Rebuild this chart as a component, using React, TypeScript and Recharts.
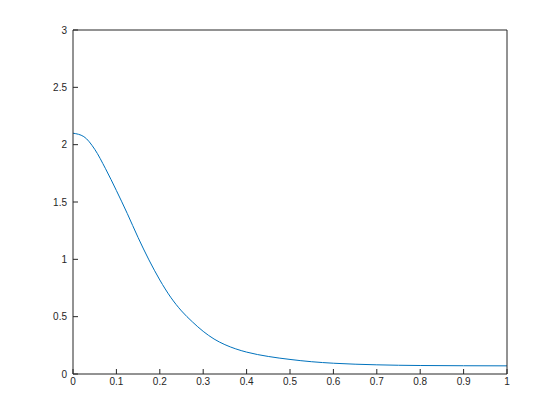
import { LineChart, Line, XAxis, YAxis } from "recharts";

const xs = [0, 0.025, 0.05, 0.075, 0.1, 0.125, 0.15, 0.175, 0.2, 0.225, 0.25, 0.275, 0.3, 0.325, 0.35, 0.375, 0.4, 0.45, 0.5, 0.55, 0.6, 0.7, 0.8, 0.9, 1];
const ys = [2.1, 2.07, 1.96, 1.79, 1.6, 1.4, 1.19, 0.995, 0.82, 0.67, 0.55, 0.455, 0.372, 0.305, 0.256, 0.219, 0.191, 0.153, 0.127, 0.107, 0.094, 0.08, 0.074, 0.072, 0.071];
const xTicks = [0, 0.1, 0.2, 0.3, 0.4, 0.5, 0.6, 0.7, 0.8, 0.9, 1];
const yTicks = [0, 0.5, 1, 1.5, 2, 2.5, 3];

const AXIS = "#262626";
const LINE = "#0072BD";
const FONT = { fontSize: 10, fill: AXIS, fontFamily: "Liberation Sans, Arial, sans-serif" };

export default function App() {
  const data = xs.map((x, i) => ({ x, y: ys[i] }));

  return (
    <div style={{ position: "absolute", left: 0, top: 0, background: "#fff" }}>
      <LineChart width={560} height={420} data={data} margin={{ top: 29, right: 52, bottom: 0, left: 0 }}>
        <XAxis
          dataKey="x"
          type="number"
          domain={[0, 1]}
          ticks={xTicks}
          height={46}
          stroke={AXIS}
          tickSize={-5}
          tickMargin={9}
          tick={FONT}
          interval={0}
        />
        <XAxis
          xAxisId="top"
          orientation="top"
          dataKey="x"
          type="number"
          domain={[0, 1]}
          ticks={xTicks}
          height={1}
          stroke={AXIS}
          tickSize={-5}
          tick={false}
          interval={0}
        />
        <YAxis
          type="number"
          domain={[0, 3]}
          ticks={yTicks}
          width={73}
          stroke={AXIS}
          tickSize={-5}
          tickMargin={11}
          tick={FONT}
          interval={0}
        />
        <YAxis
          yAxisId="right"
          orientation="right"
          type="number"
          domain={[0, 3]}
          ticks={yTicks}
          width={1}
          stroke={AXIS}
          tickSize={-5}
          tick={false}
          interval={0}
        />
        <Line xAxisId="top" yAxisId="right" type="monotone" dataKey="y" stroke="none" dot={false} isAnimationActive={false} />
        <Line type="monotone" dataKey="y" stroke={LINE} strokeWidth={1} dot={false} isAnimationActive={false} />
      </LineChart>
    </div>
  );
}
